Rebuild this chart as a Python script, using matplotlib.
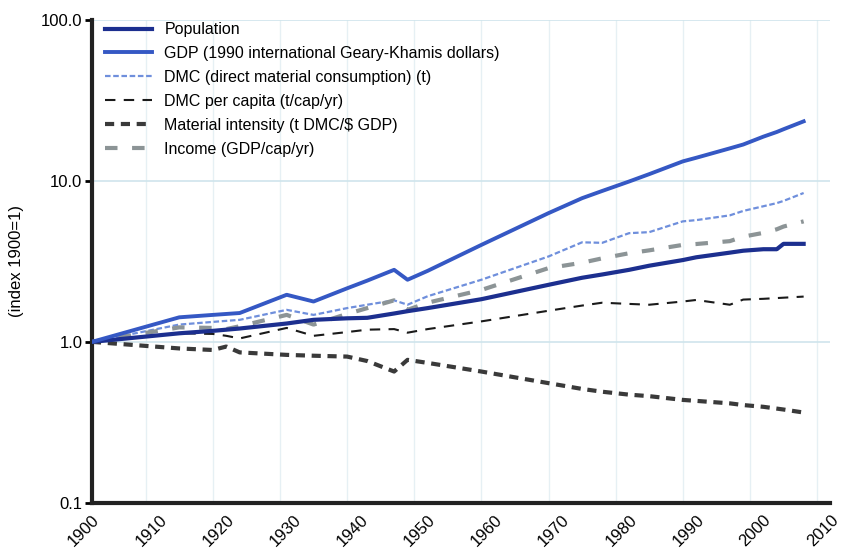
import matplotlib.pyplot as plt
from matplotlib.ticker import FixedLocator, NullFormatter

plt.rcParams['font.family'] = ['Liberation Sans', 'DejaVu Sans']

# index values, 1900 = 1
years = [1900, 1913, 1918, 1920, 1922, 1929, 1933, 1938, 1941, 1945, 1947, 1950,
         1958, 1968, 1973, 1976, 1980, 1983, 1988, 1990, 1995, 1997, 2000, 2002,
         2003, 2006]

population = [1.00, 1.13, 1.17, 1.19, 1.21, 1.30, 1.37, 1.40, 1.41, 1.50, 1.55, 1.62,
              1.84, 2.26, 2.50, 2.62, 2.80, 2.97, 3.22, 3.35, 3.58, 3.68, 3.76, 3.76,
              4.06, 4.06]
gdp = [1.00, 1.42, 1.47, 1.49, 1.51, 1.96, 1.78, 2.15, 2.40, 2.80, 2.43, 2.76,
       4.0, 6.3, 7.8, 8.65, 9.9, 11.0, 13.2, 13.9, 15.9, 16.8, 18.8, 20.1,
       20.9, 23.4]
dmc = [1.00, 1.28, 1.33, 1.35, 1.37, 1.58, 1.47, 1.62, 1.70, 1.81, 1.70, 1.92,
       2.43, 3.39, 4.15, 4.12, 4.73, 4.80, 5.6, 5.7, 6.1, 6.5, 6.95, 7.27,
       7.5, 8.4]
dmc_per_cap = [1.00, 1.13, 1.12, 1.09, 1.05, 1.22, 1.09, 1.15, 1.19, 1.20, 1.14, 1.20,
               1.34, 1.56, 1.68, 1.75, 1.72, 1.70, 1.78, 1.82, 1.70, 1.83, 1.85, 1.87,
               1.88, 1.91]
mat_intensity = [1.00, 0.91, 0.89, 0.935, 0.86, 0.83, 0.82, 0.81, 0.76, 0.654, 0.773, 0.74,
                 0.654, 0.554, 0.51, 0.49, 0.47, 0.46, 0.436, 0.43, 0.415, 0.405, 0.395, 0.385,
                 0.38, 0.364]
income = [1.00, 1.23, 1.22, 1.20, 1.25, 1.47, 1.28, 1.49, 1.62, 1.81, 1.58, 1.75,
          2.10, 2.87, 3.10, 3.30, 3.55, 3.70, 4.00, 4.05, 4.22, 4.50, 4.75, 5.00,
          5.20, 5.60]

xticks = list(range(1900, 2011, 10))
yticks = [0.1, 1, 10, 100]
ylabels = ['0.1', '1.0', '10.0', '100.0']

fig = plt.figure(figsize=(8.44, 5.49), dpi=100)
ax = fig.add_axes([0.109, 0.084, 0.875, 0.88])

ax.plot(years, population, color='#1c2f8f', lw=3, label='Population', zorder=5)
ax.plot(years, gdp, color='#3558c4', lw=2.8, label='GDP (1990 international Geary-Khamis dollars)', zorder=5)
ax.plot(years, dmc, color='#6f8fdc', lw=1.6, dashes=(2.5, 1.2), label='DMC (direct material consumption) (t)', zorder=4)
ax.plot(years, dmc_per_cap, color='#1a1a1a', lw=1.5, dashes=(5, 4), label='DMC per capita (t/cap/yr)', zorder=4)
ax.plot(years, mat_intensity, color='#3a3a3a', lw=3, dashes=(2.2, 1.6), label='Material intensity (t DMC/$ GDP)', zorder=4)
ax.plot(years, income, color='#8c9496', lw=3, dashes=(3, 3.5), label='Income (GDP/cap/yr)', zorder=4)

ax.set_yscale('log')
ax.set_ylim(0.1, 100)
ax.set_xlim(1900, 2010)
ax.yaxis.set_major_locator(FixedLocator(yticks))
ax.set_yticklabels(ylabels, fontsize=12)
ax.yaxis.set_minor_formatter(NullFormatter())
ax.yaxis.set_minor_locator(FixedLocator([]))
ax.set_xticks(xticks)
ax.set_xticklabels([str(y) for y in xticks], rotation=45, ha='right', rotation_mode='anchor', fontsize=12)

# faint grid: horizontal at decades, vertical slightly offset as in the source
ax.grid(axis='y', which='major', color='#cfe4ec', lw=1.2, zorder=0)
ax.xaxis.set_minor_locator(FixedLocator(list(range(1908, 2009, 10))))
ax.grid(axis='x', which='minor', color='#e6f0f4', lw=1, zorder=0)
ax.tick_params(axis='x', which='minor', length=0)
ax.tick_params(axis='x', which='major', length=0, pad=7)
ax.tick_params(axis='y', which='major', length=5, width=2, pad=2)

for side in ['top', 'right']:
    ax.spines[side].set_visible(False)
for side in ['left', 'bottom']:
    ax.spines[side].set_linewidth(3)
    ax.spines[side].set_color('#222222')

ax.set_ylabel('(index 1900=1)', fontsize=12, labelpad=12)

ax.legend(loc='upper left', frameon=False, fontsize=11.5, handlelength=2.95,
          handletextpad=0.75, labelspacing=0.56, borderaxespad=0.2,
          bbox_to_anchor=(0.005, 1.015))

fig.savefig('out.png', dpi=100)
